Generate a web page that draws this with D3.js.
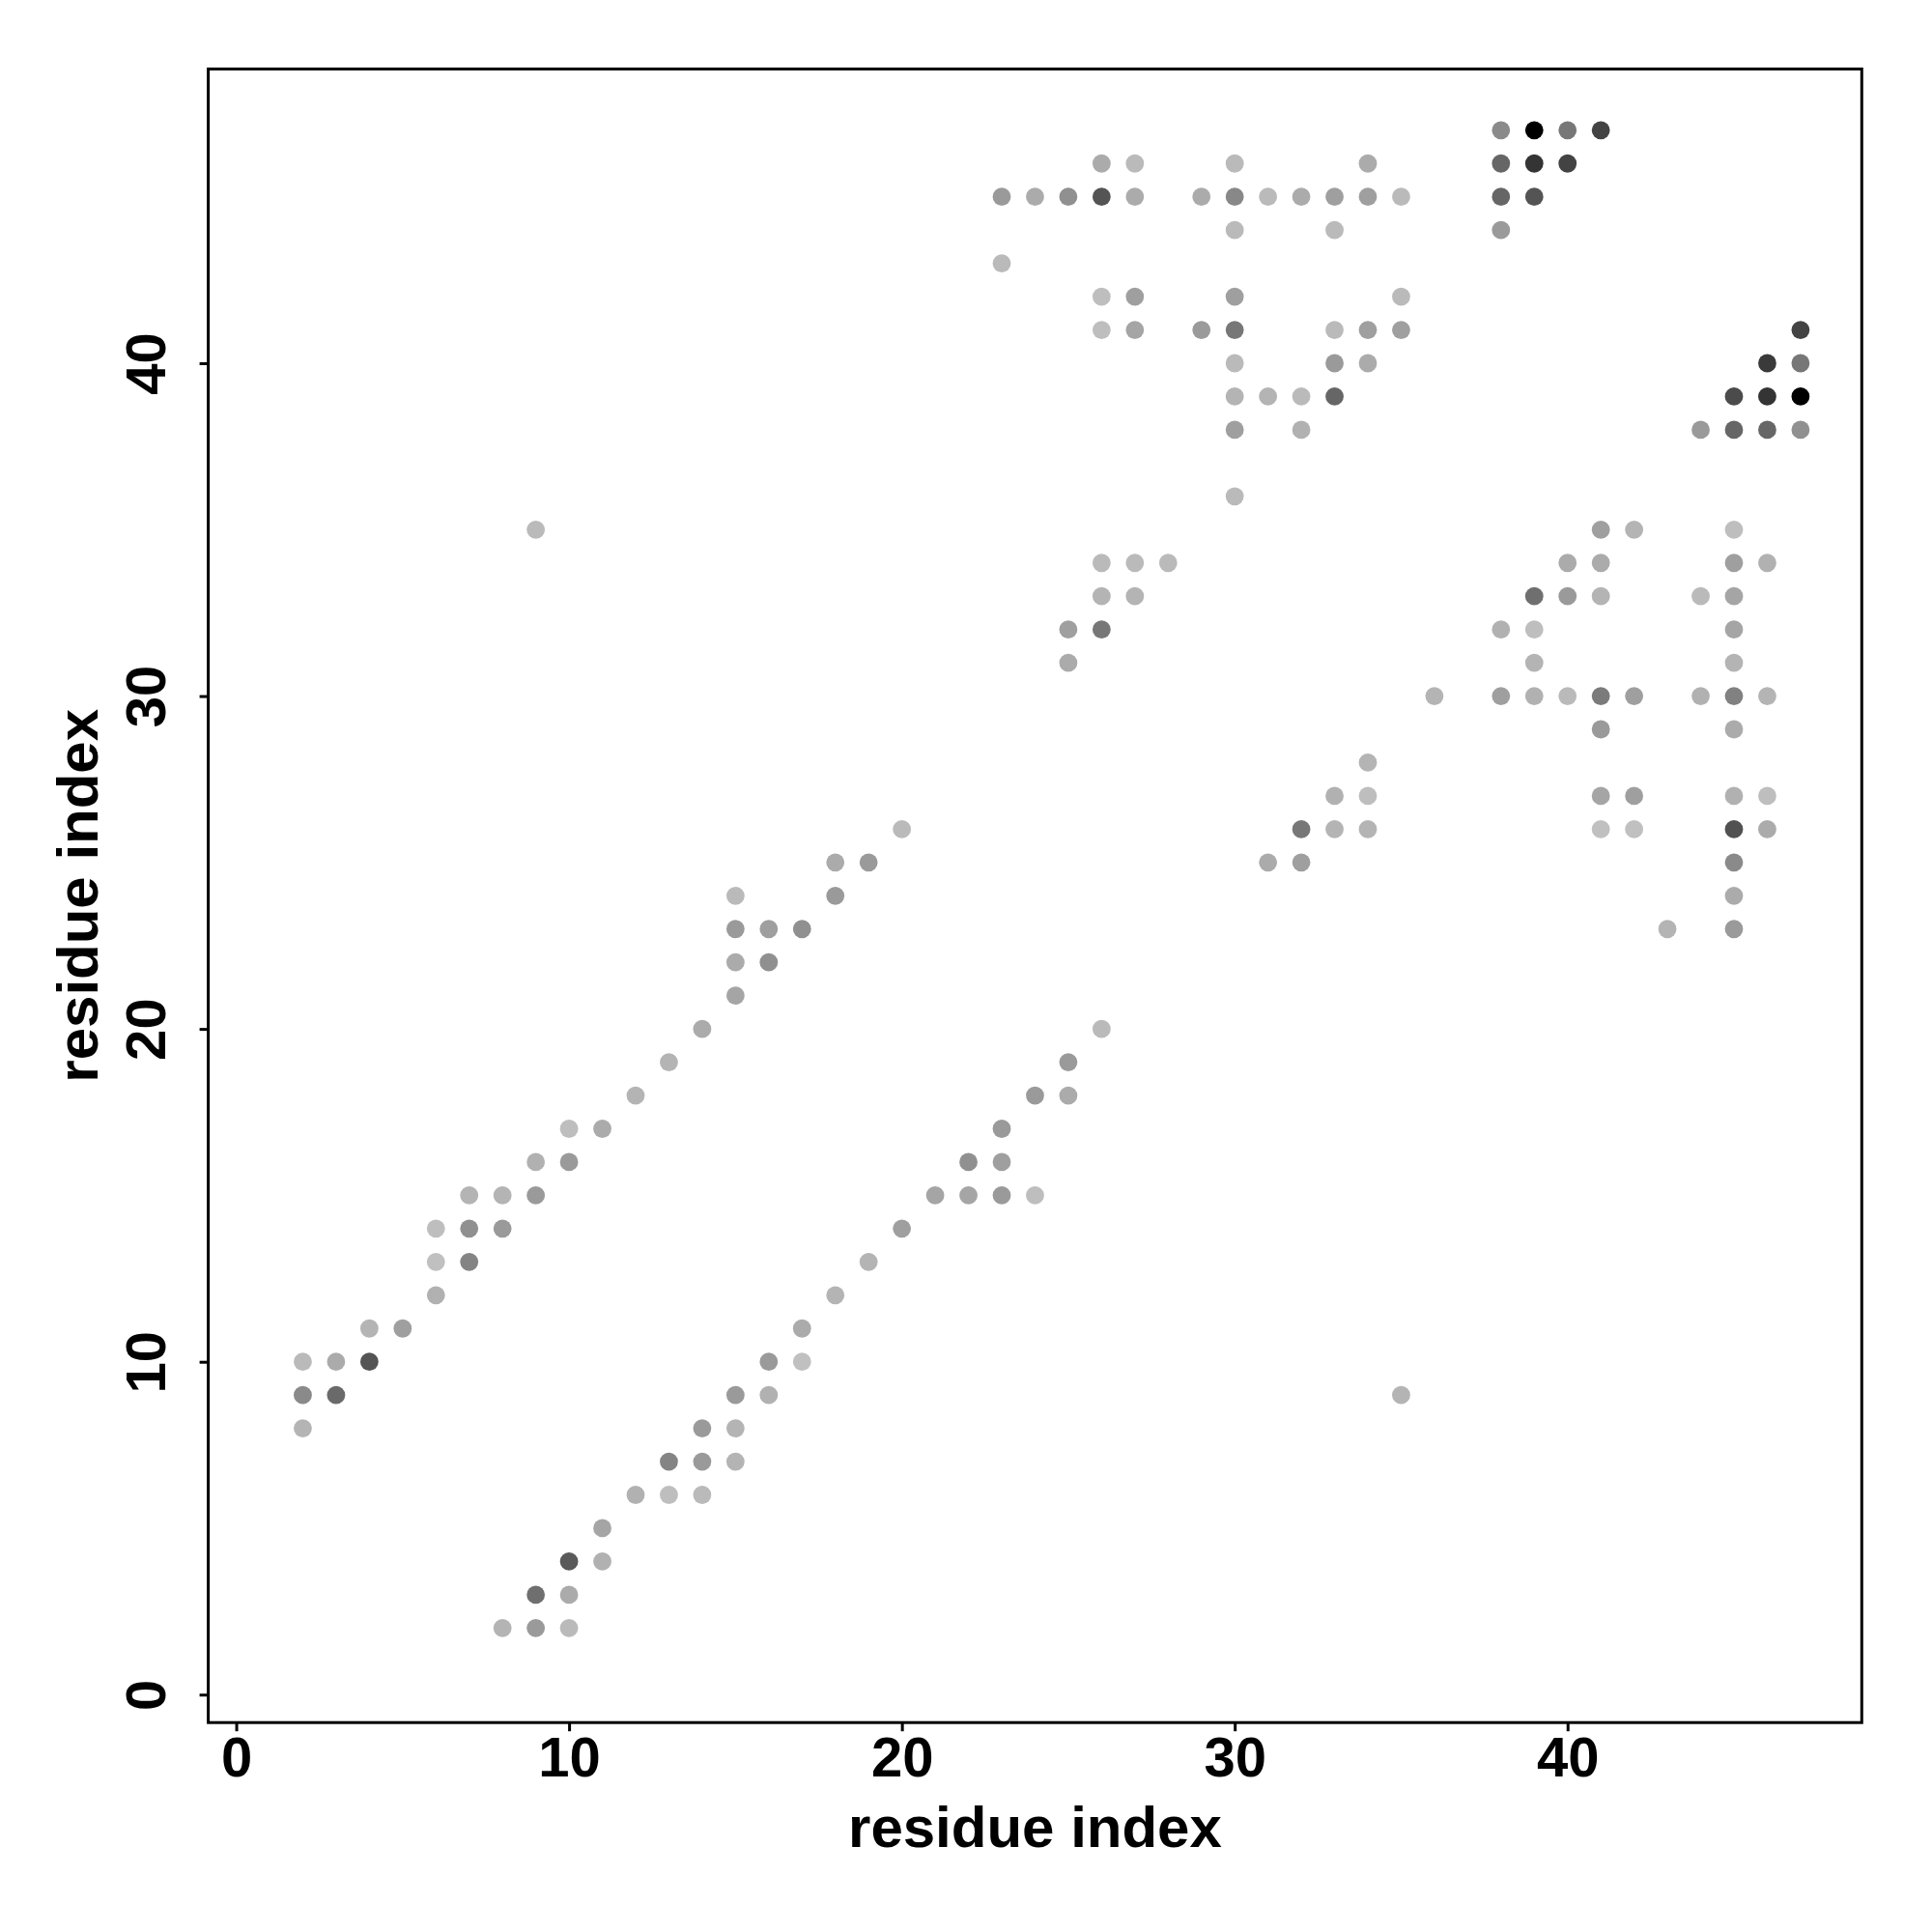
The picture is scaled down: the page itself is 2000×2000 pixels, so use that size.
<!DOCTYPE html>
<html>
<head>
<meta charset="utf-8">
<script src="https://cdn.jsdelivr.net/npm/d3@7"></script>
<style>
  html, body { margin: 0; padding: 0; background: #ffffff; }
  svg { display: block; }
  text { font-family: "Liberation Sans", Arial, Helvetica, sans-serif; font-weight: bold; }
</style>
</head>
<body>
<svg id="chart" width="2000" height="2000"></svg>
<script>
// ---- data: residue contact map (residue i, residue j, contact strength 0..1) ----
const resI = [
  38,39,40,41,
  26,27,30,34,38,39,40,
  23,24,25,26,27,29,30,31,32,33,34,35,38,39,
  30,33,38,
  23,
  26,27,30,35,
  26,27,29,30,33,34,35,47,
  30,33,34,46,47,
  30,31,32,33,45,46,47,
  30,32,44,45,46,47,
  30,
  9,41,42,45,
  26,27,28,40,41,45,46,
  26,27,39,40,41,44,45,
  25,26,38,39,45,
  25,39,45,
  36,38,39,40,41,42,44,45,46,
  41,45,
  34,
  33,34,41,42,45,46,
  20,32,33,34,41,42,45,46,
  18,19,31,32,45,
  15,18,45,
  15,16,17,43,45,
  15,16,
  15,
  14,26,
  13,25,
  12,24,25,
  10,11,23,
  9,10,22,23,
  7,8,9,21,22,23,24,
  6,7,8,20,
  6,7,19,
  6,18,
  4,5,17,
  2,3,4,16,17,
  2,3,15,16,35,
  2,14,15,
  13,14,15,
  12,13,14,
  11,
  10,11,
  9,10,
  8,9,10
];
const resJ = [
  47,47,47,47,
  46,46,46,46,46,46,46,
  45,45,45,45,45,45,45,45,45,45,45,45,45,45,
  44,44,44,
  43,
  42,42,42,42,
  41,41,41,41,41,41,41,41,
  40,40,40,40,40,
  39,39,39,39,39,39,39,
  38,38,38,38,38,38,
  36,
  35,35,35,35,
  34,34,34,34,34,34,34,
  33,33,33,33,33,33,33,
  32,32,32,32,32,
  31,31,31,
  30,30,30,30,30,30,30,30,30,
  29,29,
  28,
  27,27,27,27,27,27,
  26,26,26,26,26,26,26,26,
  25,25,25,25,25,
  24,24,24,
  23,23,23,23,23,
  22,22,
  21,
  20,20,
  19,19,
  18,18,18,
  17,17,17,
  16,16,16,16,
  15,15,15,15,15,15,15,
  14,14,14,14,
  13,13,13,
  12,12,
  11,11,11,
  10,10,10,10,10,
  9,9,9,9,9,
  8,8,8,
  7,7,7,
  6,6,6,
  5,
  4,4,
  3,3,
  2,2,2
];
const strength = [
  0.28,1.00,0.38,0.65,
  0.11,0.03,0.03,0.11,0.47,0.73,0.65,
  0.20,0.11,0.25,0.56,0.11,0.11,0.29,0.03,0.11,0.17,0.17,0.03,0.47,0.56,
  0.03,0.03,0.20,
  0.03,
  0.01,0.17,0.17,0.03,
  0.01,0.14,0.20,0.38,0.03,0.17,0.17,0.65,
  0.03,0.20,0.11,0.70,0.38,
  0.06,0.06,0.03,0.47,0.61,0.73,1.00,
  0.17,0.08,0.20,0.47,0.47,0.25,
  0.03,
  0.03,0.17,0.06,0.01,
  0.03,0.03,0.03,0.11,0.11,0.17,0.08,
  0.06,0.06,0.42,0.20,0.06,0.03,0.14,
  0.17,0.38,0.08,0.01,0.14,
  0.11,0.06,0.06,
  0.06,0.17,0.08,0.03,0.36,0.17,0.08,0.33,0.06,
  0.20,0.11,
  0.06,
  0.08,0.01,0.14,0.17,0.08,0.01,
  0.03,0.38,0.06,0.06,0.00,0.00,0.58,0.11,
  0.11,0.20,0.11,0.17,0.28,
  0.03,0.20,0.11,
  0.20,0.17,0.25,0.06,0.20,
  0.11,0.25,
  0.14,
  0.11,0.03,
  0.06,0.20,
  0.06,0.20,0.11,
  0.01,0.11,0.20,
  0.08,0.20,0.25,0.17,
  0.06,0.06,0.20,0.14,0.14,0.20,0.01,
  0.01,0.25,0.20,0.17,
  0.00,0.31,0.06,
  0.08,0.06,
  0.06,0.17,0.11,
  0.03,0.11,0.56,0.20,0.00,
  0.28,0.45,0.20,0.08,0.06,
  0.06,0.20,0.06,
  0.31,0.20,0.06,
  0.08,0.01,0.03,
  0.14,
  0.53,0.08,
  0.42,0.11,
  0.06,0.20,0.03
];
const axisLimits = [1, 47];
const tickValues = [0, 10, 20, 30, 40];
const axisTitleX = "residue index";
const axisTitleY = "residue index";

// ---- layout ----
const W = 2000, H = 2000;
const margin = { left: 215.6, right: 72.7, top: 71.4, bottom: 216.8 };
const pad = (axisLimits[1] - axisLimits[0]) * 0.04;
const domain = [axisLimits[0] - pad, axisLimits[1] + pad];

const x = d3.scaleLinear().domain(domain).range([margin.left, W - margin.right]);
const y = d3.scaleLinear().domain(domain).range([H - margin.bottom, margin.top]);
const shade = d3.scaleLinear().domain([0, 1]).range(["#c0c0c0", "#000000"]).interpolate(d3.interpolateRgb);

const svg = d3.select("#chart");
svg.append("rect").attr("width", W).attr("height", H).attr("fill", "#ffffff");

const pts = resI.map((d, k) => ({ i: d, j: resJ[k], s: strength[k] }));

svg.append("g").selectAll("circle").data(pts).join("circle")
  .attr("cx", d => x(d.i))
  .attr("cy", d => y(d.j))
  .attr("r", 9.4)
  .attr("fill", d => shade(d.s));

// box
const x0 = x.range()[0], x1 = x.range()[1], y0 = y.range()[0], y1 = y.range()[1];
svg.append("rect")
  .attr("x", x0).attr("y", y1)
  .attr("width", x1 - x0).attr("height", y0 - y1)
  .attr("fill", "none").attr("stroke", "#000").attr("stroke-width", 3);

const FS = 58;
const FT = 60;

// x axis
const gx = svg.append("g").attr("transform", `translate(0,${y0})`)
  .call(d3.axisBottom(x).tickValues(tickValues).tickSize(9).tickFormat(d3.format("d")));
gx.select(".domain").remove();
gx.selectAll(".tick line").attr("stroke", "#000").attr("stroke-width", 3);
gx.selectAll(".tick text")
  .attr("y", 55.5).attr("dy", null)
  .attr("font-size", FS).attr("fill", "#000")
  .attr("font-family", '"Liberation Sans", Arial, sans-serif').attr("font-weight", "bold");

// y axis
const gy = svg.append("g").attr("transform", `translate(${x0},0)`)
  .call(d3.axisLeft(y).tickValues(tickValues).tickSize(9).tickFormat(d3.format("d")));
gy.select(".domain").remove();
gy.selectAll(".tick line").attr("stroke", "#000").attr("stroke-width", 3);
gy.selectAll(".tick text")
  .attr("x", null).attr("dy", null)
  .attr("transform", "translate(-44.6,0) rotate(-90)")
  .attr("text-anchor", "middle")
  .attr("font-size", FS).attr("fill", "#000")
  .attr("font-family", '"Liberation Sans", Arial, sans-serif').attr("font-weight", "bold");

// axis titles
svg.append("text")
  .attr("x", (x0 + x1) / 2).attr("y", 1912)
  .attr("text-anchor", "middle").attr("font-size", FT).attr("fill", "#000")
  .text(axisTitleX);

svg.append("text")
  .attr("transform", `translate(101,${(y0 + y1) / 2}) rotate(-90)`)
  .attr("text-anchor", "middle").attr("font-size", FT).attr("fill", "#000")
  .text(axisTitleY);
</script>
</body>
</html>
